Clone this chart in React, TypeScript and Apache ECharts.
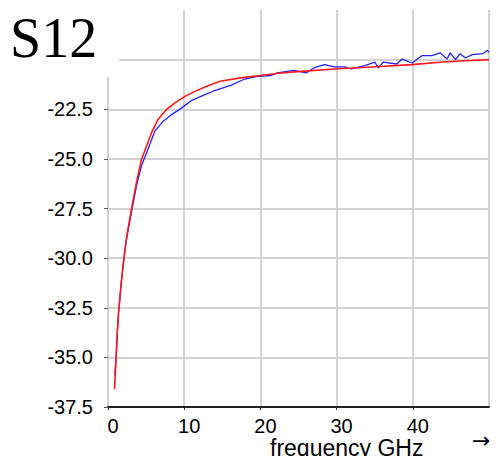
import React, { useEffect, useRef } from "react";
import * as echarts from "echarts";

const TITLE = "S12";
const X_NAME = "frequency GHz";

const X_MIN = 0;
const X_MAX = 50;
const X_INTERVAL = 10;
const Y_MIN = -37.5;
const Y_MAX = -17.5;
const Y_INTERVAL = 2.5;
const Y_LABEL_LIMIT = -21; // labels above this are hidden behind the title block

// red: model curve [frequency GHz, dB]
const redFreq = [0.86, 1.08, 1.22, 1.39, 1.56, 1.75, 1.92, 2.09, 2.28, 2.45, 3.07, 3.73, 4.39, 5.05, 5.71, 6.59, 7.7, 8.8, 10.1, 11.4, 12.8, 14.7, 17.4, 20.0, 22.7, 25.3, 29.7, 34.6, 39.9, 43.9, 46.9, 50.0];
const redVal = [-36.6, -34.85, -33.67, -32.7, -31.98, -31.2, -30.57, -30.0, -29.4, -28.9, -27.55, -26.2, -25.03, -24.36, -23.68, -23.0, -22.5, -22.18, -21.85, -21.6, -21.37, -21.09, -20.92, -20.8, -20.67, -20.59, -20.47, -20.37, -20.25, -20.12, -20.06, -20.0];

// blue: measured curve [frequency GHz, dB]
const blueFreq = [0.9, 1.1, 1.25, 1.4, 1.6, 1.78, 1.95, 2.12, 2.3, 2.5, 3.1, 3.75, 4.39, 5.26, 6.15, 7.25, 8.36, 9.68, 11.0, 12.8, 13.9, 16.1, 17.8, 19.6, 21.4, 22.2, 24.4, 26.0, 27.0, 28.4, 29.7, 31.0, 31.9, 33.7, 35.0, 35.5, 36.1, 37.9, 38.6, 39.9, 41.2, 42.5, 43.6, 44.5, 44.9, 45.6, 46.2, 46.9, 47.8, 49.2, 49.8, 50.0];
const blueVal = [-35.9, -34.8, -33.6, -32.7, -31.9, -31.1, -30.5, -29.95, -29.4, -28.9, -27.65, -26.35, -25.35, -24.5, -23.6, -23.1, -22.77, -22.43, -22.05, -21.75, -21.58, -21.3, -21.0, -20.84, -20.8, -20.67, -20.54, -20.67, -20.42, -20.25, -20.37, -20.37, -20.47, -20.3, -20.13, -20.42, -20.13, -20.22, -19.97, -20.17, -19.8, -19.8, -19.66, -19.97, -19.66, -20.0, -19.7, -19.92, -19.75, -19.7, -19.53, -19.63];

const zip = (xs: number[], ys: number[]) => xs.map((x, i) => [x, ys[i]]);

export default function App() {
  const ref = useRef<HTMLDivElement>(null);

  useEffect(() => {
    if (!ref.current) return;
    const chart = echarts.init(ref.current, null, { renderer: "svg" });
    const grid = "#d2d2d2";
    chart.setOption({
      animation: false,
      backgroundColor: "#ffffff",
      grid: { left: 108, right: 8, top: 10, bottom: 49, containLabel: false },
      xAxis: {
        type: "value",
        min: X_MIN,
        max: X_MAX,
        interval: X_INTERVAL,
        axisLine: { show: true, lineStyle: { color: "#222", width: 2 } },
        axisTick: { show: true, length: 3, lineStyle: { color: "#333", width: 1 } },
        axisLabel: {
          show: true,
          showMaxLabel: false,
          margin: 9,
          padding: [0, 0, 0, 10],
          color: "#000",
          fontSize: 20,
          fontFamily: "Liberation Sans",
        },
        splitLine: { show: true, lineStyle: { color: grid, width: 2 } },
      },
      yAxis: {
        type: "value",
        min: Y_MIN,
        max: Y_MAX,
        interval: Y_INTERVAL,
        axisLine: { show: true, onZero: false, lineStyle: { color: grid, width: 2 } },
        axisTick: { show: true, length: 4, lineStyle: { color: "#555", width: 1 } },
        axisLabel: {
          show: true,
          margin: 15,
          padding: [9, 0, 0, 0],
          color: "#000",
          fontSize: 20,
          fontFamily: "Liberation Sans",
          formatter: (v: number) => (v > Y_LABEL_LIMIT ? "" : v.toFixed(1)),
        },
        splitLine: { show: true, showMaxLine: false, lineStyle: { color: grid, width: 2 } },
      },
      series: [
        {
          type: "line",
          data: zip(blueFreq, blueVal),
          showSymbol: false,
          lineStyle: { color: "#2222ff", width: 1.3 },
          z: 2,
        },
        {
          type: "line",
          data: zip(redFreq, redVal),
          showSymbol: false,
          lineStyle: { color: "#ff1a1a", width: 1.6 },
          z: 3,
        },
      ],
      graphic: [
        {
          type: "rect",
          z: 100,
          shape: { x: 0, y: 0, width: 119, height: 77 },
          style: { fill: "#ffffff" },
          silent: true,
        },
        {
          type: "text",
          z: 101,
          x: 10,
          y: 38,
          style: {
            text: TITLE,
            fontSize: 56,
            fontFamily: "Liberation Serif",
            fill: "#000",
            align: "left",
            verticalAlign: "middle",
          },
        },
        {
          type: "text",
          z: 101,
          x: 270,
          y: 448,
          style: {
            text: X_NAME,
            fontSize: 23,
            fontFamily: "Liberation Sans",
            fill: "#000",
            align: "left",
            verticalAlign: "middle",
          },
        },
        {
          type: "text",
          z: 101,
          x: 472,
          y: 440,
          style: {
            text: "→",
            fontSize: 22,
            fontFamily: "DejaVu Sans",
            fill: "#000",
            align: "left",
            verticalAlign: "middle",
          },
        },
      ],
    });
    return () => chart.dispose();
  }, []);

  return <div ref={ref} style={{ width: 497, height: 456, position: "absolute", left: 0, top: 0 }} />;
}
